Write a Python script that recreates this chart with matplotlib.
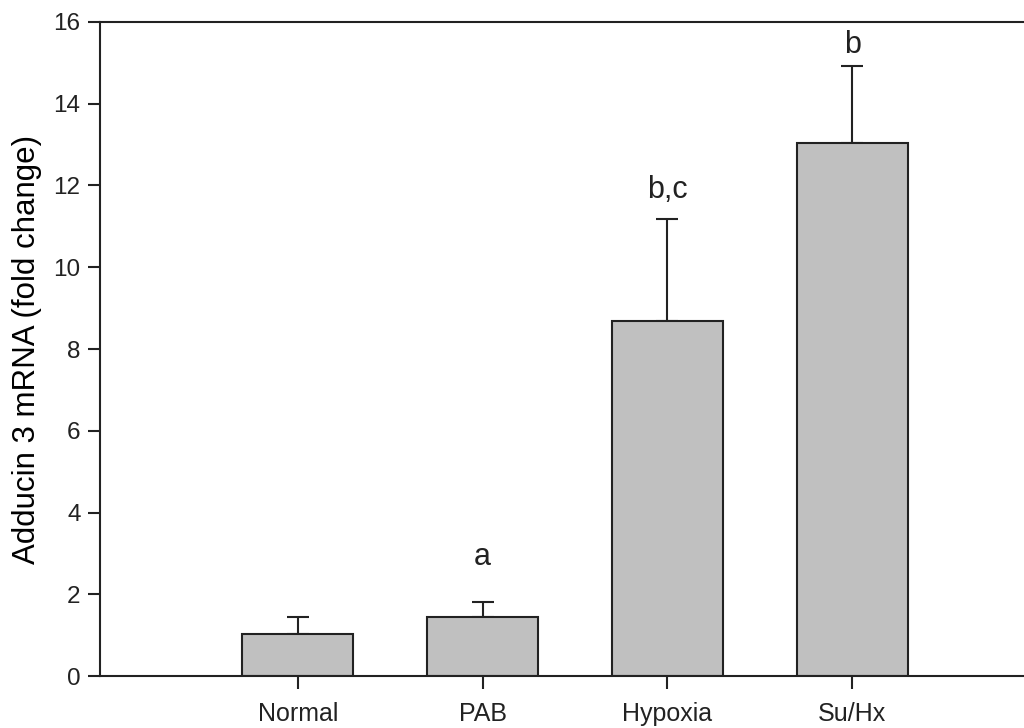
import matplotlib
matplotlib.use('Agg')
from matplotlib import pyplot as plt
import numpy as np

# Adducin 3 expression per group, fold change vs normal
groups = ['Normal', 'PAB', 'Hypoxia', 'Su/Hx']
fold_change = [1.03, 1.45, 8.68, 13.04]
sem = [0.41, 0.37, 2.50, 1.89]
labels = ['', 'a', 'b,c', 'b']
label_y = [0, 2.91, 11.9, 15.44]

plt.rcParams['font.family'] = ['Liberation Sans', 'DejaVu Sans']

fig = plt.figure(figsize=(10.24, 7.28), dpi=100)
ax = fig.add_axes([0.0977, 0.0714, 0.9023, 0.8984])

x = np.arange(len(groups))
ax.bar(x, fold_change, width=0.6, color='#c0c0c0', edgecolor='#222222',
       linewidth=1.5, zorder=2)
# upper error bars only
ax.errorbar(x, fold_change, yerr=[np.zeros(len(sem)), sem], fmt='none',
            ecolor='#222222', elinewidth=1.5, capsize=8, capthick=1.5, zorder=1)

for xi, lab, ly in zip(x, labels, label_y):
    if lab:
        ax.text(xi, ly, lab, ha='center', va='center', fontsize=22, color='#222222')

ax.set_xlim(-1.07, 3.93)
ax.set_ylim(0, 16)
ax.set_yticks(range(0, 17, 2))
ax.set_xticks(x)
ax.set_xticklabels(groups)
ax.set_ylabel('Adducin 3 mRNA (fold change)', fontsize=22.5, labelpad=8)

ax.spines['right'].set_visible(False)
for side in ['left', 'bottom', 'top']:
    ax.spines[side].set_linewidth(1.5)
    ax.spines[side].set_color('#222222')
ax.tick_params(axis='both', direction='out', length=9, width=1.5,
               labelsize=18, colors='#222222')
ax.tick_params(axis='y', labelsize=17.5, pad=5)
ax.tick_params(axis='x', pad=10)

fig.savefig('out.png', dpi=100)
